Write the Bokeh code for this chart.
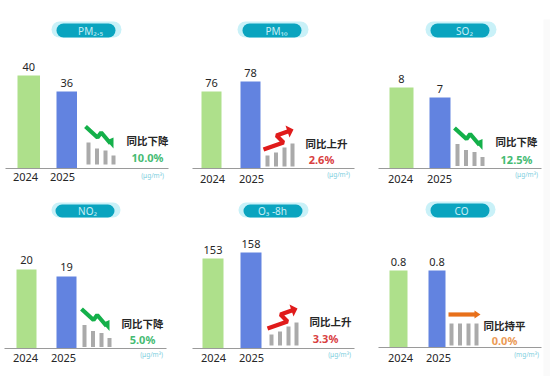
from bokeh.core.properties import value
from bokeh.embed import file_html
from bokeh.models import Range1d
from bokeh.plotting import figure
from bokeh.resources import INLINE

# ---- data
names = ["PM₂.₅", "PM₁₀", "SO₂", "NO₂", "O₃ -8h", "CO"]
years = ["2024", "2025"]
val_2024 = [40, 76, 8, 20, 153, 0.8]
val_2025 = [36, 78, 7, 19, 158, 0.8]
labels_2024 = ["40", "76", "8", "20", "153", "0.8"]
labels_2025 = ["36", "78", "7", "19", "158", "0.8"]
trend = ["down", "up", "down", "down", "up", "flat"]
trend_text = ["同比下降", "同比上升", "同比下降", "同比下降", "同比上升", "同比持平"]
change = ["10.0%", "2.6%", "12.5%", "5.0%", "3.3%", "0.0%"]
units = ["(μg/m³)", "(μg/m³)", "(μg/m³)", "(μg/m³)", "(μg/m³)", "(mg/m³)"]

# ---- layout of each panel, in page pixels
axis_span = [(5, 168), (192, 354), (378, 541), (4, 166), (192, 354), (378, 541)]
baseline = [168, 168, 168, 348, 348, 347]
bar_green = [(17, 39.5), (201, 221), (389, 413), (16, 36), (202, 223), (389, 407)]
bar_blue = [(56, 76.5), (240, 260), (429, 450), (56, 76), (240, 261), (428, 445)]
scale_floor = [16.75, 60.6, -0.1, 8.71, 78, 0]   # value sitting on the baseline
scale_k = [4, 5, 10, 7, 1.2, 96.25]               # pixels per unit
pill_outer = [(51, 121), (237, 308), (425, 496), (51, 120), (238, 308), (425, 495)]
pill_inner = [(56, 115), (242, 301), (430, 489), (55, 114), (243, 302), (430, 489)]
pill_y = [(21, 37), (21, 37), (21, 37), (202, 217), (202, 217), (201, 217)]
pill_text_x = [90, 276, 464, 87, 272, 461]
year_x = [(25, 62), (212, 251), (400, 439), (25, 63), (213, 251), (400, 438)]
year_y = [176, 178, 178, 357, 357, 357]
text_pos = [(147, 140), (326, 143), (516, 141), (142, 323), (330, 321), (504, 325)]
pct_pos = [(147, 157), (321, 159), (516, 159), (142, 339), (325, 338), (504, 340)]
unit_pos = [(152, 175), (338, 174), (526, 174), (151, 354), (339, 354), (526, 354)]
mini_anchor = [(86, 164), (265, 166), (455, 165.5), (82, 346.5), (269, 345), (449, 345)]
mini_heights = {"down": [22, 16, 14, 9], "up": [11, 14, 19, 23], "flat": [22, 22, 22, 22]}
mini_steps = [0, 8.5, 17, 25]
trend_col = {"down": "#14b04a", "up": "#e01b1b", "flat": "#e8701a"}
pct_col = {"down": "#45bb72", "up": "#d9403f", "flat": "#eb9a55"}
arrow_path = {"down": ([-1, 11, 14.7, 24], [-38, -27, -32, -21]),
                 "up": ([-2, 18, 11, 25], [-17, -24, -31, -36]),
                 "flat": ([-1, 27], [-31, -31])}
arrow_head = {"down": ([20, 27, 27], [-24, -16, -27]),
                 "up": ([20, 28, 24], [-41, -37, -29]),
                 "flat": ([25, 31, 25], [-35, -31, -27])}

GREEN, BLUE, AXIS, INK = "#aee08b", "#6283e0", "#9a9a9a", "#262626"
LATIN, CJK = value("Noto Sans"), value("Noto Sans CJK SC")
W, H = 550, 376

p = figure(width=W, height=H, x_range=Range1d(0, W), y_range=Range1d(H, 0),
           toolbar_location=None, output_backend="svg", min_border=0,
           outline_line_color=None,
           background_fill_color="white", border_fill_color="white")
p.axis.visible = False
p.grid.visible = False

# faint edge of the source image
p.quad(left=[543], right=[550], top=[19], bottom=[376], color="#fafafa", line_color=None)

for i, name in enumerate(names):
    base = baseline[i]
    scale = f"s{i}"
    p.extra_y_ranges[scale] = Range1d(scale_floor[i] - (H - base) / scale_k[i],
                                      scale_floor[i] + base / scale_k[i])
    # pill
    p.quad(left=[pill_outer[i][0]], right=[pill_outer[i][1]], top=[pill_y[i][0]], bottom=[pill_y[i][1]],
           color="#c9f1f8", line_color=None, border_radius=8)
    p.quad(left=[pill_inner[i][0]], right=[pill_inner[i][1]], top=[pill_y[i][0] + 2], bottom=[pill_y[i][1]],
           color="#0aa4bf", line_color=None, border_radius=7)
    p.text([pill_text_x[i]], [sum(pill_y[i]) / 2 + 1], text=[name], text_font=LATIN, text_font_size="10px",
           text_color="#c8eef5", text_align="center", text_baseline="middle")
    # bars, through this panel's own value scale
    for span, v, lab, col in ((bar_green[i], val_2024[i], labels_2024[i], GREEN),
                              (bar_blue[i], val_2025[i], labels_2025[i], BLUE)):
        p.vbar(x=[sum(span) / 2], width=span[1] - span[0], bottom=[scale_floor[i]], top=[v],
               color=col, line_color=None, y_range_name=scale)
        p.text([sum(span) / 2], [v], text=[lab], y_offset=-9, text_font=LATIN, text_font_size="11px",
               text_color=INK, text_align="center", text_baseline="middle", y_range_name=scale)
    # axis line and year labels
    p.line(list(axis_span[i]), [base, base], line_color=AXIS, line_width=1.2)
    p.text(list(year_x[i]), [year_y[i]] * 2, text=years, text_font=LATIN, text_font_size="11px",
           text_color=INK, text_align="center", text_baseline="middle")
    # small grey bars
    ax, ay = mini_anchor[i]
    hs = mini_heights[trend[i]]
    p.vbar(x=[ax + 2 + s for s in mini_steps], width=4, bottom=[ay] * 4, top=[ay - h for h in hs],
           color="#aaaaaa", line_color=None)
    # trend arrow
    px, py = arrow_path[trend[i]]
    hx, hy = arrow_head[trend[i]]
    p.line([ax + v for v in px], [ay + v for v in py], line_color=trend_col[trend[i]], line_width=4.2)
    p.patch([ax + v for v in hx], [ay + v for v in hy], color=trend_col[trend[i]], line_color=None)
    # texts
    p.text([text_pos[i][0]], [text_pos[i][1]], text=[trend_text[i]], text_font=CJK, text_font_size="10.5px",
           text_font_style="bold", text_color=INK, text_align="center", text_baseline="middle")
    p.text([pct_pos[i][0]], [pct_pos[i][1]], text=[change[i]], text_font=LATIN, text_font_size="11px",
           text_font_style="bold", text_color=pct_col[trend[i]], text_align="center", text_baseline="middle")
    p.text([unit_pos[i][0]], [unit_pos[i][1]], text=[units[i]], text_font=LATIN, text_font_size="6.5px",
           text_color="#7fcfe0", text_align="center", text_baseline="middle")

open("out.html", "w").write(file_html(p, INLINE))
